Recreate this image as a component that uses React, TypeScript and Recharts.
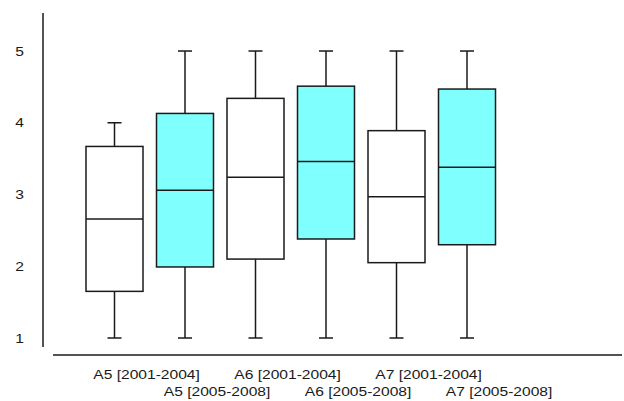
import { ComposedChart, Bar, XAxis, YAxis } from "recharts";

const categories = [
  "A5 [2001-2004]",
  "A5 [2005-2008]",
  "A6 [2001-2004]",
  "A6 [2005-2008]",
  "A7 [2001-2004]",
  "A7 [2005-2008]",
];
const mins = [1, 1, 1, 1, 1, 1];
const q1s = [1.65, 1.99, 2.1, 2.38, 2.05, 2.3];
const medians = [2.66, 3.06, 3.24, 3.46, 2.97, 3.38];
const q3s = [3.67, 4.13, 4.34, 4.51, 3.89, 4.47];
const maxs = [4.0, 5, 5, 5, 5, 5];
const yTicks = [1, 2, 3, 4, 5];

const data = categories.map((name, i) => ({
  name,
  min: mins[i],
  q1: q1s[i],
  median: medians[i],
  q3: q3s[i],
  max: maxs[i],
}));

const FONT = "'Liberation Sans', Arial, sans-serif";
const INK = "#1a1a1a";

// box + whiskers drawn inside the min..max range the bar gets from the y scale
const BoxShape = (props: any) => {
  const { x, y, width, height, payload, index } = props;
  const top = Math.min(y, y + height);
  const bottom = Math.max(y, y + height);
  const span = payload.max - payload.min;
  const py = (v: number) => bottom - ((v - payload.min) / span) * (bottom - top);
  const cx = x + width / 2;
  const cap = 7;
  const fill = index % 2 === 1 ? "#80ffff" : "#ffffff";
  return (
    <g stroke={INK} strokeWidth={1.5}>
      <line x1={cx} x2={cx} y1={top} y2={py(payload.q3)} />
      <line x1={cx} x2={cx} y1={py(payload.q1)} y2={bottom} />
      <line x1={cx - cap} x2={cx + cap} y1={top} y2={top} />
      <line x1={cx - cap} x2={cx + cap} y1={bottom} y2={bottom} />
      <rect
        x={x}
        y={py(payload.q3)}
        width={width}
        height={py(payload.q1) - py(payload.q3)}
        fill={fill}
      />
      <line x1={x} x2={x + width} y1={py(payload.median)} y2={py(payload.median)} />
    </g>
  );
};

const YTick = (props: any) => {
  const { x, y, payload } = props;
  return (
    <text
      transform={`translate(${x},${y}) scale(1.2,1)`}
      textAnchor="end"
      dy="0.35em"
      fontSize={13}
      fontFamily={FONT}
      fill={INK}
    >
      {payload.value}
    </text>
  );
};

const XTick = (props: any) => {
  const { x, y, payload, index } = props;
  const row = index % 2 === 0 ? 24 : 41;
  return (
    <text
      transform={`translate(${x - 21},${y + row}) scale(1.2,1)`}
      textAnchor="start"
      fontSize={13}
      fontFamily={FONT}
      fill={INK}
    >
      {payload.value}
    </text>
  );
};

const App = () => {
  return (
    <div style={{ position: "absolute", left: 0, top: 0, background: "#fff" }}>
      <ComposedChart
        width={624}
        height={401}
        data={data}
        margin={{ top: 13, right: 2, bottom: 0, left: 0 }}
      >
        <XAxis
          dataKey="name"
          interval={0}
          height={46}
          padding={{ left: 26, right: 120 }}
          tickLine={false}
          tickSize={0}
          tickMargin={0}
          axisLine={{ stroke: INK, strokeWidth: 1.5 }}
          tick={<XTick />}
        />
        <YAxis
          type="number"
          domain={[0.763, 5.53]}
          allowDataOverflow
          ticks={yTicks}
          width={53}
          tickLine={false}
          tickSize={0}
          tickMargin={29}
          axisLine={{
            stroke: INK,
            strokeWidth: 1.5,
            transform: "translate(-10 0)",
            strokeDasharray: "334 1000",
          }}
          tick={<YTick />}
        />
        <Bar
          dataKey={(d: any) => [d.min, d.max]}
          barSize={57}
          shape={<BoxShape />}
          isAnimationActive={false}
        />
      </ComposedChart>
    </div>
  );
};

export default App;
